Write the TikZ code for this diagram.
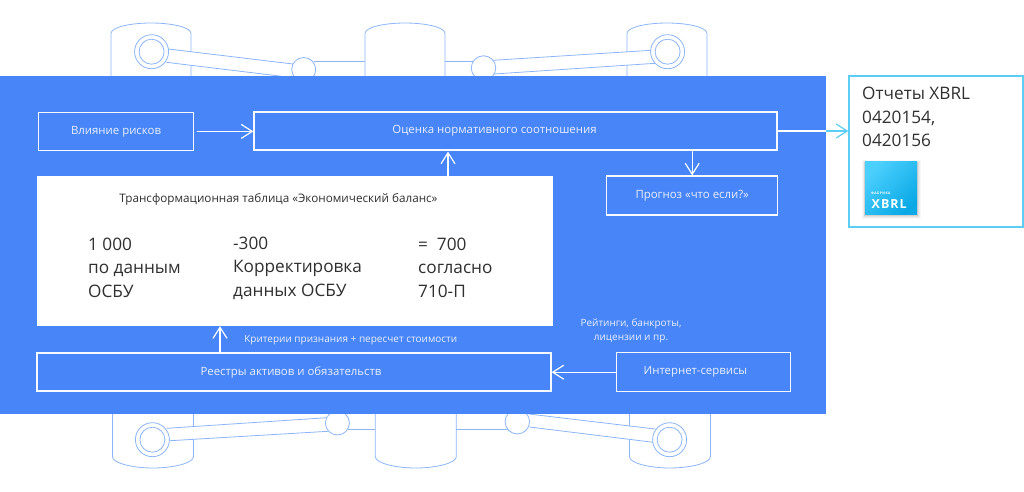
\documentclass[tikz,border=0pt]{standalone}
\usepackage{fontspec}
\setmainfont{Open Sans}
\usetikzlibrary{arrows.meta}
\definecolor{mainblue}{HTML}{4885F9}
\definecolor{mech}{HTML}{8DB5FA}
\definecolor{sky}{HTML}{5CCDF5}
\definecolor{logotop}{HTML}{4BCFFD}
\definecolor{logobot}{HTML}{0AA9E6}
\definecolor{ink}{HTML}{303030}
\definecolor{wtext}{HTML}{E8F0FE}
\tikzset{
  x=1pt,y=-1pt,
  wbox/.style={draw=white!95!mainblue,line width=1.3pt,fill=mainblue,text=wtext,inner sep=0pt,font=\fontsize{11.4}{13}\selectfont},
  arr/.style={draw=white,line width=1.2pt,-{Straight Barb[length=11pt,width=14pt,line width=1.2pt]}},
  tank/.style={draw=mech,line width=.8pt,fill=white},
  bar/.style={fill=white,draw=none},
  barline/.style={draw=mech,line width=.8pt},
  ring/.style={draw=mech,line width=.8pt,fill=white,circle,inner sep=0pt},
  bigt/.style={text=ink,font=\fontsize{17.2}{23.5}\selectfont,align=left,anchor=north west,inner sep=0pt},
  small/.style={text=wtext,font=\fontsize{10}{14}\selectfont,align=center,inner sep=0pt},
}
\newcommand{\lowr}[2][0pt]{\raisebox{-2.8pt}{\hspace*{0pt}#2\hspace*{#1}}}
\newcommand{\tanktop}[1]{\path[tank] (#1,76) -- (#1,33.5) .. controls (#1,27) and ({#1+20},23) .. ({#1+40},23) .. controls ({#1+60},23) and ({#1+80},27) .. ({#1+80},33.5) -- ({#1+80},76);}
\newcommand{\tankbot}[1]{\path[tank] (#1,414) -- (#1,456.7) .. controls (#1,463) and ({#1+20},468) .. ({#1+40.5},468) .. controls ({#1+61},468) and ({#1+81},463) .. ({#1+81},456.7) -- ({#1+81},414);}
\newcommand{\barquad}[8]{\fill[bar] (#1,#2) -- (#3,#4) -- (#7,#8) -- (#5,#6) -- cycle;
  \draw[barline] (#1,#2) -- (#3,#4) (#5,#6) -- (#7,#8);}
\begin{document}
\begin{tikzpicture}
\useasboundingbox (0,0) rectangle (1024,491);
% top mechanism
\tanktop{111}
\tanktop{365}
\tanktop{627}
\draw[barline] (314,61.7) -- (365,61.7) (445,61.7) -- (473,61.7);
\barquad{168.4}{49}{292.9}{64}{166.3}{62.3}{281.8}{76.3}
\barquad{492.9}{60.3}{651.2}{50.3}{494}{74}{655.3}{63.3}
\node[ring,minimum size=24pt] (jtl) at (303.7,69.5) {};
\node[ring,minimum size=24.5pt] (jtr) at (483.5,68) {};
\node[ring,minimum size=34pt] (rtlo) at (151.6,51.7) {};
\node[ring,minimum size=25pt] (rtli) at (151.6,51.7) {};
\node[ring,minimum size=34pt] (rtro) at (667.6,51.7) {};
\node[ring,minimum size=25pt] (rtri) at (667.6,51.7) {};
% bottom mechanism
\tankbot{112.4}
\tankbot{375.3}
\tankbot{629.4}
\draw[barline] (348,429.3) -- (375.3,429.3) (456.3,429.3) -- (508.4,429.3);
\barquad{166.7}{428.3}{326.7}{417.7}{170}{440.7}{328}{431.3}
\barquad{528.8}{414}{655.3}{429}{529.6}{427}{653.3}{442.3}
\node[ring,minimum size=24pt] (jbl) at (337.4,423) {};
\node[ring,minimum size=24.5pt] (jbr) at (517.3,421.7) {};
\node[ring,minimum size=34pt] (rblo) at (152.4,439.7) {};
\node[ring,minimum size=25pt] (rbli) at (152.4,439.7) {};
\node[ring,minimum size=34pt] (rbro) at (669.6,439.7) {};
\node[ring,minimum size=25pt] (rbri) at (669.6,439.7) {};
% panel
\fill[mainblue] (0,76) rectangle (826,413.7);
% boxes
\node[wbox,minimum width=155pt,minimum height=38.5pt] (risk) at (116,131.4) {\lowr{Влияние рисков}};
\node[wbox,minimum width=523pt,minimum height=38pt] (norm) at (515.5,131) {\lowr[42pt]{Оценка нормативного соотношения}};
\node[wbox,minimum width=171pt,minimum height=39pt] (prog) at (692.2,195.5) {\lowr{Прогноз «что если?»}};
\node[wbox,minimum width=514pt,minimum height=38pt] (reg) at (294,372) {\lowr[6pt]{Реестры активов и обязательств}};
\node[wbox,minimum width=174.5pt,minimum height=39pt] (inet) at (703.4,372.2) {\lowr[16pt]{Интернет-сервисы}};
\node[fill=white,minimum width=516pt,minimum height=150pt,inner sep=0pt] (table) at (295,251) {};
\node[text=ink,font=\fontsize{11.7}{13}\selectfont,inner sep=0pt] (ttitle) at (278.5,199.5) {Трансформационная таблица «Экономический баланс»};
\node[bigt] (c1) at (88,237.5) {1 000\\по данным\\ОСБУ};
\node[bigt] (c2) at (233,236.5) {-300\\Корректировка\\данных ОСБУ};
\node[bigt] (c3) at (418,237.5) {=\ \ 700\\согласно\\710-П};
\node[small] (crit) at (350.7,340) {Критерии признания + пересчет стоимости};
\node[small] (rate) at (631,331) {Рейтинги, банкроты,\\лицензии и пр.};
% XBRL box
\node[draw=sky,line width=1.9pt,fill=white,minimum width=173.5pt,minimum height=150.5pt,inner sep=0pt] (out) at (936,151.4) {};
\node[bigt] (outt) at (862,87) {Отчеты XBRL\\0420154,\\0420156};
\foreach \o/\d in {.03/3.5,.04/2.5,.05/1.5,.07/.7}{\fill[black,opacity=\o] (865-\d,162-\d+1) rectangle (917+\d,214.5+\d+1);}
\node[minimum width=52pt,minimum height=52.5pt,inner sep=0pt,top color=logotop,bottom color=logobot,shading angle=45] (logo) at (891,188.2) {};
\node[text=white,font=\bfseries\fontsize{3.4}{3}\selectfont\addfontfeatures{LetterSpace=12},inner sep=0pt,anchor=west] (f) at (871,193.7) {ФАБРИКА};
\node[text=white,font=\bfseries\fontsize{12.5}{12}\selectfont\addfontfeatures{LetterSpace=8},inner sep=0pt,anchor=west] (x) at (871.5,203.7) {XBRL};
% connectors
\coordinate (edge) at (826,131);
\coordinate (up1) at (448,176);
\coordinate (up2) at (220,0);
\draw[arr] ([xshift=3pt]risk.east) -- (norm.west |- risk.east);
\draw[draw=white,line width=1.2pt] (norm.east) -- (edge);
\draw[draw=sky,line width=1.2pt,-{Straight Barb[length=11pt,width=14pt,line width=1.2pt]}] (edge) -- (out.west |- edge);
\draw[arr] (prog.north |- norm.south) -- (prog.north);
\draw[arr] (up1 |- table.north) -- ([yshift=-1pt]up1 |- norm.south);
\draw[arr] (up2 |- reg.north) -- (up2 |- table.south);
\draw[arr] (inet.west) -- (reg.east |- inet.west);
\end{tikzpicture}
\end{document}
